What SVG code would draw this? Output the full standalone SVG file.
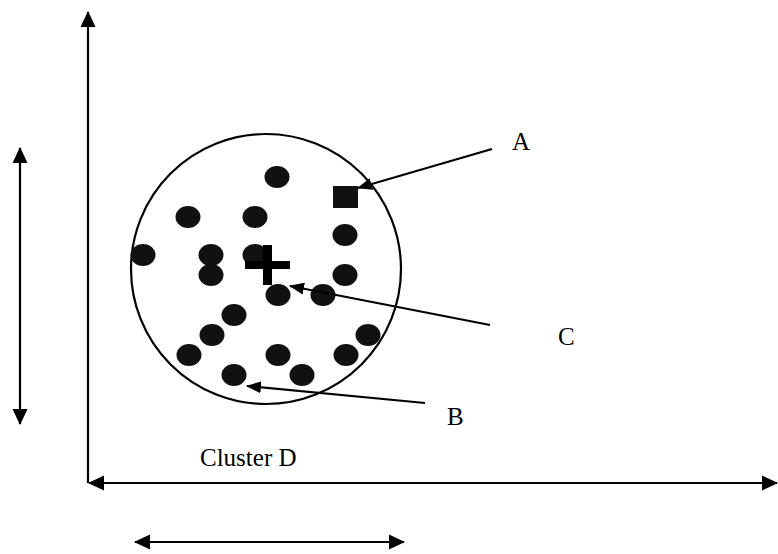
<svg xmlns="http://www.w3.org/2000/svg" width="778" height="554" viewBox="0 0 778 554">
<style>
.ax{stroke:#000;stroke-width:2.2;fill:none}
.cn{stroke:#000;stroke-width:2.2;fill:none}
.pt{fill:#111}
.lbl{font-family:"Liberation Serif","Times New Roman",serif;font-size:25px;fill:#000}
</style>
<defs>
<marker id="big" markerUnits="userSpaceOnUse" markerWidth="16" markerHeight="16" viewBox="0 0 16 16" refX="15" refY="8" orient="auto-start-reverse">
<path d="M0,0.5 L16,8 L0,15.5 Z" fill="#000"/>
</marker>
<marker id="sm" markerUnits="userSpaceOnUse" markerWidth="15" markerHeight="13" viewBox="0 0 15 13" refX="14" refY="6.5" orient="auto">
<path d="M0,0.5 L15,6.5 L0,12.5 Z" fill="#000"/>
</marker>
</defs>
<rect width="778" height="554" fill="#fff"/>
<g id="axes">
<line class="ax" x1="88" y1="483" x2="88" y2="12" marker-end="url(#big)"/>
<line class="ax" x1="777" y1="483" x2="89" y2="483" marker-start="url(#big)" marker-end="url(#big)"/>
<line class="ax" x1="20" y1="148" x2="20" y2="424" marker-start="url(#big)" marker-end="url(#big)"/>
<line class="ax" x1="135" y1="542" x2="404" y2="542" marker-start="url(#big)" marker-end="url(#big)"/>
</g>
<g id="cluster">
<circle cx="266" cy="269" r="135" fill="none" stroke="#000" stroke-width="2.2"/>
</g>
<g id="points">
<ellipse class="pt" cx="277" cy="177" rx="12.5" ry="11"/>
<ellipse class="pt" cx="188" cy="217" rx="12.5" ry="11"/>
<ellipse class="pt" cx="255" cy="217" rx="12.5" ry="11"/>
<ellipse class="pt" cx="143" cy="255" rx="12.5" ry="11"/>
<ellipse class="pt" cx="211" cy="255" rx="12.5" ry="11"/>
<ellipse class="pt" cx="211" cy="275" rx="12.5" ry="11"/>
<ellipse class="pt" cx="255" cy="255" rx="12.5" ry="11"/>
<ellipse class="pt" cx="345" cy="235" rx="12.5" ry="11"/>
<ellipse class="pt" cx="345" cy="275" rx="12.5" ry="11"/>
<ellipse class="pt" cx="278" cy="295" rx="12.5" ry="11"/>
<ellipse class="pt" cx="323" cy="295" rx="12.5" ry="11"/>
<ellipse class="pt" cx="234" cy="315" rx="12.5" ry="11"/>
<ellipse class="pt" cx="212" cy="335" rx="12.5" ry="11"/>
<ellipse class="pt" cx="189" cy="355" rx="12.5" ry="11"/>
<ellipse class="pt" cx="278" cy="355" rx="12.5" ry="11"/>
<ellipse class="pt" cx="302" cy="375" rx="12.5" ry="11"/>
<ellipse class="pt" cx="234" cy="375" rx="12.5" ry="11"/>
<ellipse class="pt" cx="346" cy="355" rx="12.5" ry="11"/>
<ellipse class="pt" cx="368" cy="335" rx="12.5" ry="11"/>
</g>
<g id="pointA">
<rect x="333" y="186" width="25" height="22" fill="#111"/>
</g>
<g id="centroidC">
<rect x="263" y="245" width="9" height="40" fill="#000"/>
<rect x="245" y="261" width="45" height="8" fill="#000"/>
</g>
<g id="connectors">
<line class="cn" x1="492" y1="149" x2="358" y2="188" marker-end="url(#sm)"/>
<line class="cn" x1="490" y1="325" x2="290" y2="286" marker-end="url(#sm)"/>
<line class="cn" x1="425" y1="403" x2="247" y2="386" marker-end="url(#sm)"/>
</g>
<g id="labels">
<text class="lbl" x="512" y="150">A</text>
<text class="lbl" x="558" y="345">C</text>
<text class="lbl" x="447" y="425">B</text>
<text class="lbl" x="200" y="466">Cluster D</text>
</g>
</svg>
